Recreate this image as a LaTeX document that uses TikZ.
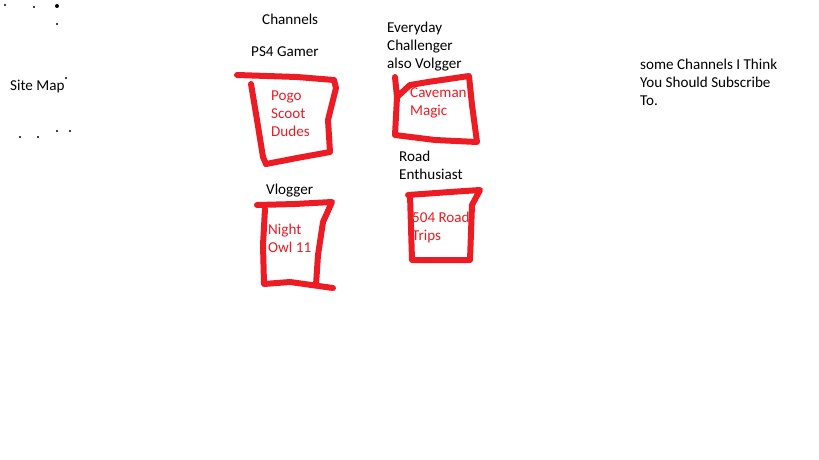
\documentclass[tikz,border=0pt]{standalone}
\usepackage{fontspec}
\setmainfont{Carlito}
\usepackage{xcolor}
\usepackage{tikz}
\usetikzlibrary{positioning}

\definecolor{paintred}{RGB}{237,28,36}

\begin{document}
\begin{tikzpicture}[
    x=1pt, y=-1pt,
    note/.style={anchor=north west, inner sep=0pt, align=left, font=\fontsize{15.1}{18}\selectfont},
    channel/.style={note, text=paintred},
    scribble/.style={draw=paintred, line width=6pt, line join=round, line cap=round},
    speck/.style={fill=black},
]

% === CANVAS ===
\fill[white] (0,0) rectangle (819,460);
\useasboundingbox (0,0) rectangle (819,460);

% Specks
\foreach \px/\py in {5/5, 34/7, 57/24, 66/78, 57/131, 70/131, 20/137, 38/137}
    \fill[speck] (\px,\py) circle (1.1pt);
\fill[speck] (57,6) circle (2pt);

% === HEADINGS ===
\node[note] (site) at (10,80) {Site Map};
\node[note] (channels) at (262,14) {Channels};
\node[note] (subscribe) at (640,59) {some Channels I Think\\You Should Subscribe\\To.};

% === PS4 GAMER ===
\node[note] (ps4) at (251,47) {PS4 Gamer};
\draw[scribble] (237,75) -- (297,77) -- (334,80) -- (336,88) -- (328,120) -- (330,152) -- (297,158) -- (266,164);
\draw[scribble] (251,84) -- (257,120) -- (263,157) -- (266,164);
\node[channel] (pogo) at (271,91) {Pogo\\Scoot\\Dudes};

% === EVERYDAY CHALLENGER ===
\node[note] (everyday) at (387,22) {Everyday\\Challenger\\also Volgger};
\draw[scribble] (395,77) -- (397,97) -- (410,85) -- (428,82) -- (469,76) -- (472,105) -- (477,142) -- (435,140) -- (395,135) -- (397,97);
\node[channel] (caveman) at (410,88) {Caveman\\Magic};

% === VLOGGER ===
\node[note] (vlogger) at (266,184) {Vlogger};
\draw[scribble] (257,205) -- (295,204) -- (332,202) -- (323,222) -- (318,255) -- (316,285);
\draw[scribble] (265,209) -- (263,245) -- (264,284) -- (290,282) -- (333,288);
\node[channel] (nightowl) at (268,224) {Night\\Owl 11};

% === ROAD ENTHUSIAST ===
\node[note] (road) at (399,151) {Road\\Enthusiast};
\draw[scribble] (408,195) -- (450,192) -- (480,190) -- (472,205) -- (470,260) -- (412,260) -- (410,195);
\node[channel] (trips) at (412,212) {504 Road\\Trips};

\end{tikzpicture}
\end{document}
